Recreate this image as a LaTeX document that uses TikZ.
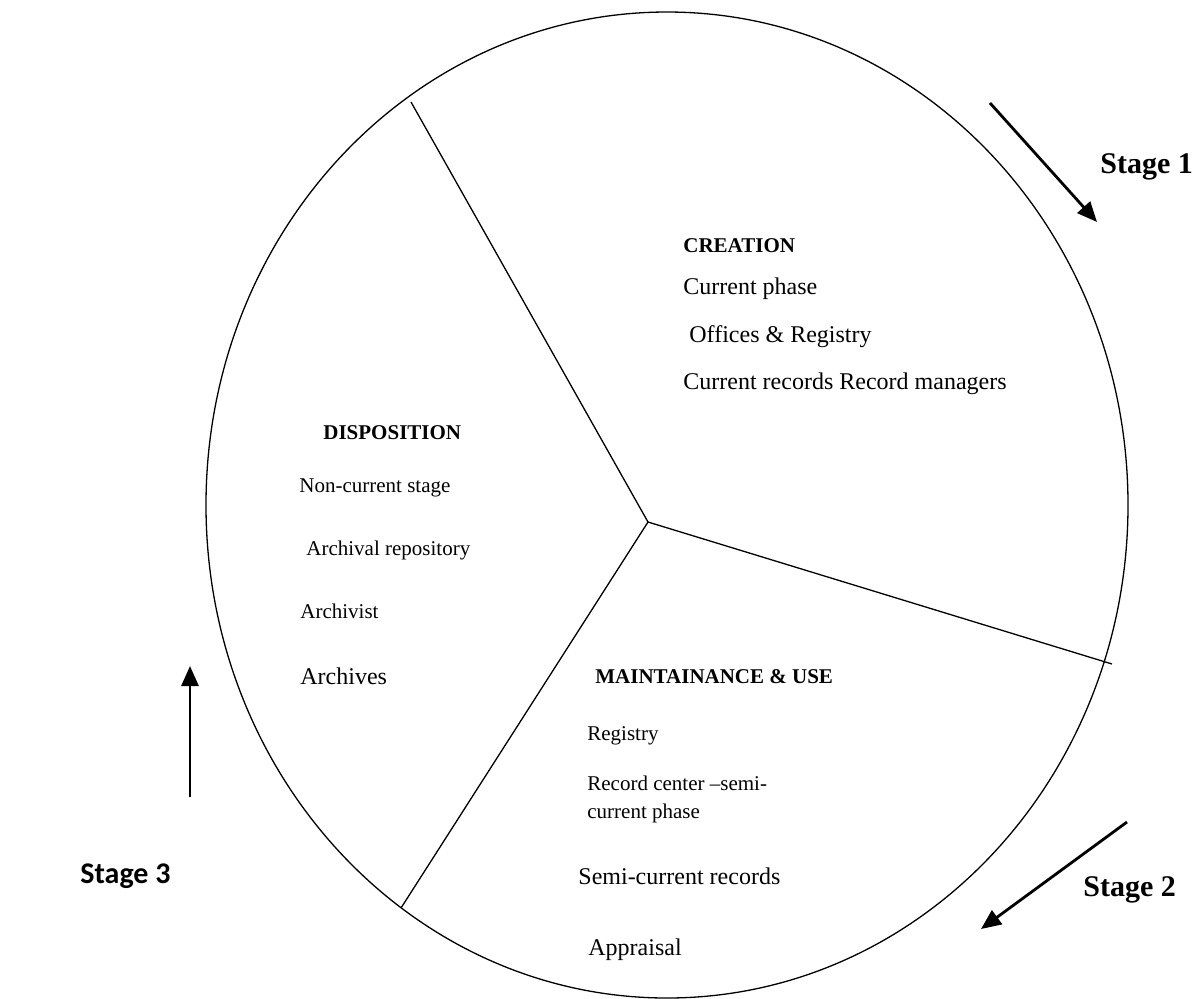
\documentclass[tikz,border=0pt]{standalone}
\usepackage{fontspec}
\setmainfont{Liberation Serif}
\newfontfamily\calibri{Carlito}
\usetikzlibrary{arrows.meta,calc,positioning}

\begin{document}
\begin{tikzpicture}[x=0.5pt,y=-0.5pt,
  txt/.style={anchor=base west,inner sep=0pt,font=\fontsize{12}{14}\selectfont},
  small/.style={txt,font=\fontsize{10.5}{12.5}\selectfont},
  head/.style={txt,font=\fontsize{10.5}{12.5}\selectfont\bfseries},
  stage/.style={txt,font=\fontsize{15}{18}\selectfont\bfseries},
  flow/.style={line width=1.4pt,-{Triangle[length=10pt,width=8.5pt]}}]
\useasboundingbox (0,0) rectangle (1199,998);
\draw[line width=0.65pt] (667,505) ellipse [x radius=230.5pt, y radius=246.5pt];
% spokes of the cycle
\coordinate (hub) at (648,522);
\coordinate (topend) at (411,102);
\coordinate (rightend) at (1112,664);
\coordinate (lowend) at (401,908);
\draw[line width=0.65pt] (hub) -- (topend);
\draw[line width=0.65pt] (hub) -- (rightend);
\draw[line width=0.65pt] (hub) -- (lowend);
% creation
\node[head] (creation) at (683,252) {CREATION};
\node[txt] (curphase) at (683,294) {Current phase};
\node[txt] (offices) at (689,342) {Offices \& Registry};
\node[txt] (curmgr) at (683,389) {Current records Record managers};
% disposition
\node[head] (dispo) at (323,439) {DISPOSITION};
\node[small] (noncur) at (299,492) {Non-current stage};
\node[small] (repo) at (306,555) {Archival repository};
\node[small] (archivist) at (300,618) {Archivist};
\node[txt] (archives) at (300,684) {Archives};
% maintainance
\node[head] (maint) at (595,683) {MAINTAINANCE \& USE};
\node[small] (registry) at (587,740) {Registry};
\node[small] (center) at (587,790) {Record center –semi-};
\node[small] (semiphase) at (587,818) {current phase};
\node[txt] (semirec) at (578,884) {Semi-current records};
\node[txt] (appraisal) at (588,955) {Appraisal};
% stages
\coordinate (s1a) at (990,103);
\coordinate (s1b) at (1097,222);
\coordinate (s2a) at (1127,822);
\coordinate (s2b) at (981,929);
\coordinate (s3a) at (190,797);
\coordinate (s3b) at (190,666);
\draw[flow] (s1a) -- (s1b);
\draw[flow] (s2a) -- (s2b);
\draw[flow] (s3a) -- (s3b);
\node[stage] (stage1) at (1100,173) {Stage 1};
\node[stage] (stage2) at (1083,896) {Stage 2};
\node[stage,font=\calibri\fontsize{15}{18}\selectfont\bfseries] (stage3) at (80,883) {Stage 3};
\end{tikzpicture}
\end{document}
